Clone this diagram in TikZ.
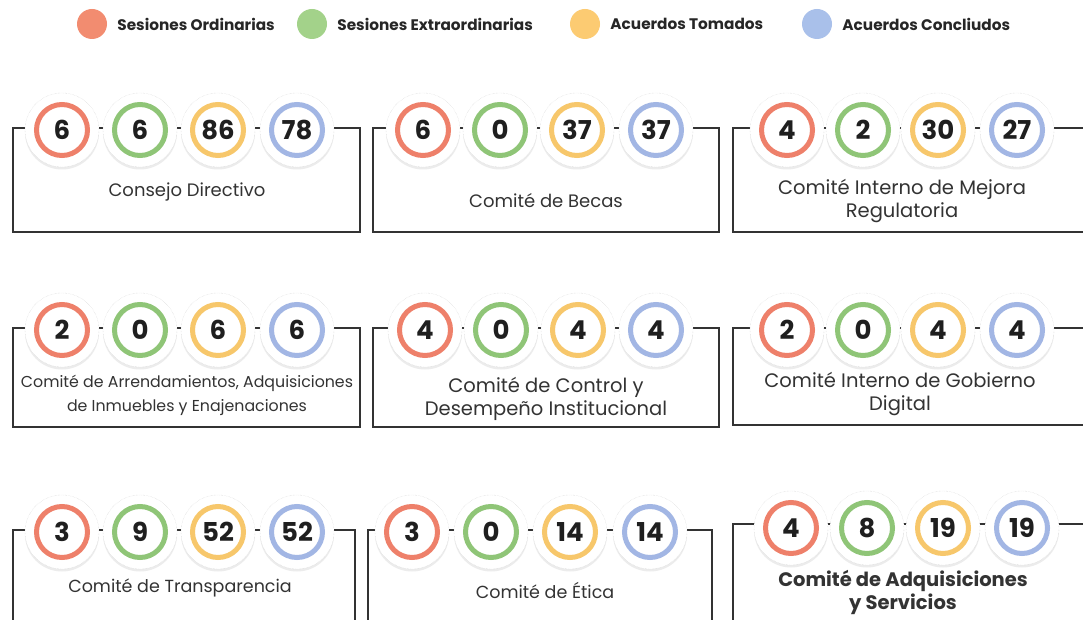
\documentclass[tikz,border=0pt]{standalone}
\usepackage{fontspec}
\setmainfont{Poppins}
\usetikzlibrary{positioning,shadows}
\definecolor{c1}{HTML}{EE806A}
\definecolor{c2}{HTML}{8FC577}
\definecolor{c3}{HTML}{F7C76B}
\definecolor{c4}{HTML}{A2B6E4}
\definecolor{l1}{HTML}{F28C70}
\definecolor{l2}{HTML}{A3D28A}
\definecolor{l3}{HTML}{FCCB72}
\definecolor{l4}{HTML}{A9C0EA}
\definecolor{ink}{HTML}{333333}
\tikzset{
  outdisc/.style={circle,fill=white,draw=black!18,densely dotted,minimum size=74pt,inner sep=0pt,
    drop shadow={opacity=0.15,shadow xshift=0pt,shadow yshift=-2.5pt}},
  numring/.style={circle,draw=#1,line width=5pt,fill=white,minimum size=51pt,inner sep=0pt,
    font=\bfseries\fontsize{26}{26}\selectfont,text=black!88},
  panelline/.style={draw=ink,line width=1.7pt},
  comname/.style={align=center,font=\fontsize{18}{23}\selectfont,text=ink},
  bigname/.style={comname,font=\fontsize{19.5}{23}\selectfont},
  legdot/.style={circle,fill=#1,minimum size=30pt,inner sep=0pt},
  legtext/.style={anchor=west,inner sep=0pt,font=\bfseries\fontsize{15.3}{16}\selectfont,text=black!85}
}
\begin{document}
\begin{tikzpicture}[x=1pt,y=-1pt]
\useasboundingbox[fill=white] (0,0) rectangle (1083,620);

% legend
\node[legdot=l1] (ord) at (92,24) {};
\node[legtext,right=10pt of ord] (ordtxt) {Sesiones Ordinarias};
\node[legdot=l2] (ext) at (312,24) {};
\node[legtext,right=10pt of ext] (exttxt) {Sesiones Extraordinarias};
\node[legdot=l3] (tom) at (585,24) {};
\node[legtext,right=10pt of tom] (tomtxt) {Acuerdos Tomados};
\node[legdot=l4] (con) at (817,24) {};
\node[legtext,right=10pt of con] (contxt) {Acuerdos Concliudos};

% row 1
\draw[panelline] (13,128) rectangle (360,232);
\foreach \x/\v [count=\i] in {62/6,140/6,218/86,297/78}
  \node[outdisc] at (\x,130) {} node[numring=c\i] (cd\i) at (\x,130) {\v};
\node[comname] (cdname) at (187,192) {Consejo Directivo};

\draw[panelline] (373,128) rectangle (719,232);
\foreach \x/\v [count=\i] in {423/6,500/0,577/37,656/37}
  \node[outdisc] at (\x,130) {} node[numring=c\i] (cb\i) at (\x,130) {\v};
\node[comname] (cbname) at (546,201) {Comité de Becas};

\draw[panelline] (733,128) rectangle (1100,232);
\foreach \x/\v [count=\i] in {787/4,863/2,938/30,1017/27}
  \node[outdisc] at (\x,130) {} node[numring=c\i] (cm\i) at (\x,130) {\v};
\node[bigname] (cmname) at (902,201) {Comité Interno de Mejora\\Regulatoria};

% row 2
\draw[panelline] (13,328) rectangle (360,427);
\foreach \x/\v [count=\i] in {62/2,140/0,218/6,297/6}
  \node[outdisc] at (\x,330) {} node[numring=c\i] (ca\i) at (\x,330) {\v};
\node[comname,font=\fontsize{15.8}{24}\selectfont] (caname) at (187,395) {Comité de Arrendamientos, Adquisiciones\\de Inmuebles y Enajenaciones};

\draw[panelline] (373,328) rectangle (719,427);
\foreach \x/\v [count=\i] in {425/4,501/0,578/4,656/4}
  \node[outdisc] at (\x,330) {} node[numring=c\i] (cc\i) at (\x,330) {\v};
\node[bigname] (ccname) at (546,399) {Comité de Control y\\Desempeño Institucional};

\draw[panelline] (733,328) rectangle (1100,425);
\foreach \x/\v [count=\i] in {787/2,863/0,938/4,1017/4}
  \node[outdisc] at (\x,330) {} node[numring=c\i] (cg\i) at (\x,330) {\v};
\node[bigname] (cgname) at (900,394) {Comité Interno de Gobierno\\Digital};

% row 3
\draw[panelline] (13,530) rectangle (355,660);
\foreach \x/\v [count=\i] in {62/3,140/9,218/52,297/52}
  \node[outdisc] at (\x,532) {} node[numring=c\i] (ct\i) at (\x,532) {\v};
\node[comname,font=\fontsize{17.5}{23}\selectfont] (ctname) at (180,588) {Comité de Transparencia};

\draw[panelline] (368,530) rectangle (712,660);
\foreach \x/\v [count=\i] in {412/3,491/0,570/14,650/14}
  \node[outdisc] at (\x,532) {} node[numring=c\i] (ce\i) at (\x,532) {\v};
\node[comname,font=\fontsize{17.5}{23}\selectfont] (cename) at (545,590) {Comité de Ética};

\draw[panelline] (733,524) rectangle (1100,660);
\foreach \x/\v [count=\i] in {791/4,867/8,943/19,1022/19}
  \node[outdisc] at (\x,528) {} node[numring=c\i] (cs\i) at (\x,528) {\v};
\node[comname,font=\bfseries\fontsize{19.5}{23}\selectfont] (csname) at (903,592) {Comité de Adquisiciones\\y Servicios};
\end{tikzpicture}
\end{document}
